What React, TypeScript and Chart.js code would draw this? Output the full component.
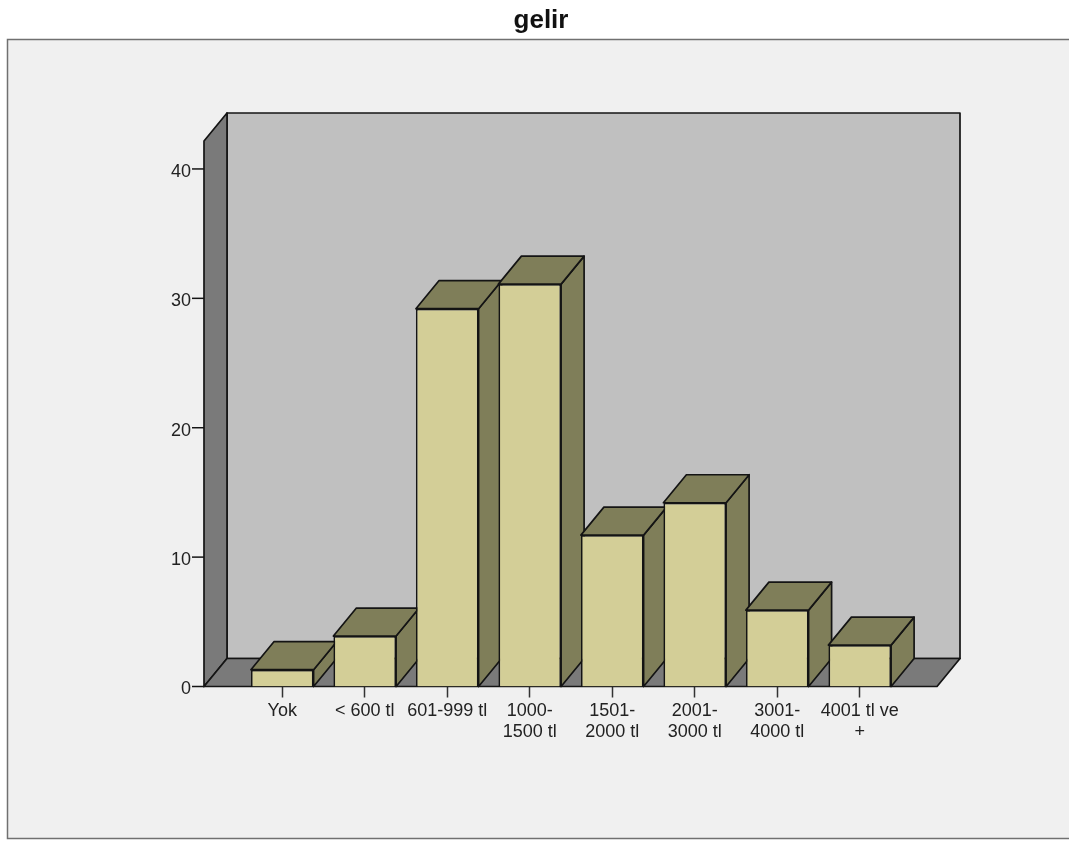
import React, { useEffect, useRef } from "react";
import { Chart, registerables } from "chart.js";

Chart.register(...registerables);

const chartTitle = "gelir";
const categories: (string | string[])[] = [
  "Yok",
  "< 600 tl",
  "601-999 tl",
  ["1000-", "1500 tl"],
  ["1501-", "2000 tl"],
  ["2001-", "3000 tl"],
  ["3001-", "4000 tl"],
  ["4001 tl ve", "+"],
];
const counts = [1.3, 3.9, 29.2, 31.1, 11.7, 14.2, 5.9, 3.2];
const yMax = 42.16;
const yStep = 10;

const FONT = "'Liberation Sans', Arial, sans-serif";
const INK = "#141414";
const DEPTH_X = 23;
const DEPTH_Y = 28;
const PAD_L = 37;
const PAD_R = 36;

function poly(ctx: CanvasRenderingContext2D, pts: number[][], fill: string, lw = 1.7) {
  ctx.beginPath();
  pts.forEach(([x, y], i) => (i ? ctx.lineTo(x, y) : ctx.moveTo(x, y)));
  ctx.closePath();
  ctx.fillStyle = fill;
  ctx.fill();
  ctx.lineWidth = lw;
  ctx.strokeStyle = INK;
  ctx.lineJoin = "round";
  ctx.stroke();
}

const panelPlugin = {
  id: "panel",
  beforeDraw(chart: any) {
    const { ctx, width, height } = chart;
    ctx.save();
    ctx.fillStyle = "#ffffff";
    ctx.fillRect(0, 0, width, height);
    ctx.fillStyle = "#f0f0f0";
    ctx.fillRect(7, 39, width - 7, 800);
    ctx.strokeStyle = "#707070";
    ctx.lineWidth = 1.5;
    ctx.beginPath();
    ctx.moveTo(width, 39.5);
    ctx.lineTo(7.5, 39.5);
    ctx.lineTo(7.5, 838.5);
    ctx.lineTo(width, 838.5);
    ctx.stroke();
    ctx.restore();
  },
};

const depthPlugin = {
  id: "depth",
  beforeDatasetsDraw(chart: any) {
    const { ctx, chartArea } = chart;
    const L = chartArea.left - PAD_L;
    const R = chartArea.right + PAD_R;
    const T = chartArea.top;
    const B = chartArea.bottom;
    ctx.save();
    // back wall, side wall, floor
    poly(ctx, [[L + DEPTH_X, T - DEPTH_Y], [R + DEPTH_X, T - DEPTH_Y], [R + DEPTH_X, B - DEPTH_Y], [L + DEPTH_X, B - DEPTH_Y]], "#c0c0c0");
    poly(ctx, [[L, T], [L + DEPTH_X, T - DEPTH_Y], [L + DEPTH_X, B - DEPTH_Y], [L, B]], "#7a7a7a");
    poly(ctx, [[L, B], [L + DEPTH_X, B - DEPTH_Y], [R + DEPTH_X, B - DEPTH_Y], [R, B]], "#7a7a7a");
    // y axis tick marks
    const yScale = chart.scales.y;
    ctx.strokeStyle = INK;
    ctx.lineWidth = 1.5;
    yScale.ticks.forEach((_: any, i: number) => {
      const py = yScale.getPixelForTick(i);
      ctx.beginPath();
      ctx.moveTo(L - 12, py);
      ctx.lineTo(L, py);
      ctx.stroke();
    });
    // bar sides and tops
    chart.getDatasetMeta(0).data.forEach((bar: any) => {
      const l = bar.x - bar.width / 2;
      const r = bar.x + bar.width / 2;
      const t = bar.y;
      const b = bar.base;
      poly(ctx, [[r, t], [r + DEPTH_X, t - DEPTH_Y], [r + DEPTH_X, b - DEPTH_Y], [r, b]], "#7f7e59");
      poly(ctx, [[l, t], [l + DEPTH_X, t - DEPTH_Y], [r + DEPTH_X, t - DEPTH_Y], [r, t]], "#7f7e59");
    });
    ctx.restore();
  },
};

export default function App() {
  const ref = useRef<HTMLCanvasElement>(null);
  useEffect(() => {
    if (!ref.current) return;
    const chart = new Chart(ref.current, {
      type: "bar",
      data: {
        labels: categories as any,
        datasets: [
          {
            label: chartTitle,
            data: counts,
            backgroundColor: "#d3ce97",
            borderColor: INK,
            borderWidth: 1.7,
            barPercentage: 0.76,
            categoryPercentage: 1,
          },
        ],
      },
      options: {
        animation: false,
        responsive: false,
        devicePixelRatio: 1,
        layout: { padding: { left: 151, right: 138, top: 0, bottom: 0 } },
        plugins: {
          legend: { display: false },
          tooltip: { enabled: false },
          title: {
            display: true,
            text: chartTitle,
            color: "#111111",
            font: { family: FONT, size: 26, weight: "bold", lineHeight: 1.2 },
            padding: { top: 5, bottom: 104.8 },
          },
        },
        scales: {
          x: {
            afterFit(scale: any) {
              scale.height = 154.5;
            },
            grid: {
              drawOnChartArea: false,
              drawTicks: true,
              offset: false,
              tickLength: 11,
              tickColor: "#333333",
              tickWidth: 1.5,
            },
            border: { display: false },
            ticks: {
              autoSkip: false,
              maxRotation: 0,
              minRotation: 0,
              padding: 3,
              color: "#222222",
              font: { family: FONT, size: 18, lineHeight: 1.15 },
            },
          },
          y: {
            min: 0,
            max: yMax,
            afterFit(scale: any) {
              scale.width = 90;
            },
            grid: { display: false, drawTicks: false },
            border: { display: false },
            ticks: {
              stepSize: yStep,
              includeBounds: false,
              padding: 50,
              labelOffset: 3,
              color: "#222222",
              font: { family: FONT, size: 18 },
            },
          },
          rightGutter: {
            type: "linear",
            position: "right",
            afterFit(scale: any) {
              scale.width = 30;
            },
            grid: { display: false, drawTicks: false },
            border: { display: false },
            ticks: { display: false },
          },
        },
      },
      plugins: [panelPlugin, depthPlugin],
    } as any);
    return () => chart.destroy();
  }, []);
  return (
    <canvas
      ref={ref}
      width={1069}
      height={841}
      style={{ position: "absolute", left: 0, top: 0, display: "block" }}
    />
  );
}
